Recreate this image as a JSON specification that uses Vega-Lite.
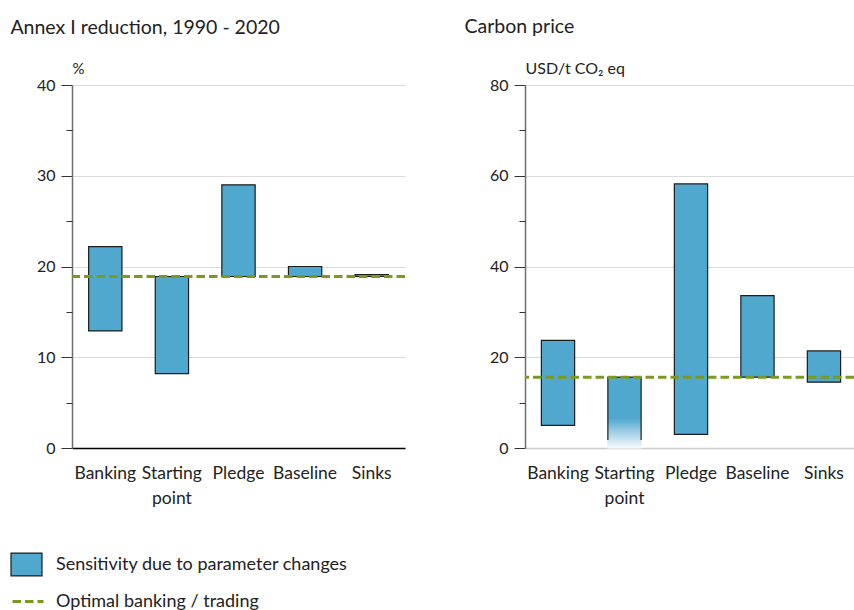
{
  "$schema": "https://vega.github.io/schema/vega-lite/v6.json",
  "padding": {"left": 10, "top": 16, "right": 0, "bottom": 0},
  "background": "white",
  "datasets": {
    "reduction": [
      {"scenario": "Banking", "low": 12.9, "high": 22.2},
      {"scenario": "Starting point", "low": 8.2, "high": 18.9},
      {"scenario": "Pledge", "low": 18.9, "high": 29.0},
      {"scenario": "Baseline", "low": 18.9, "high": 20.0},
      {"scenario": "Sinks", "low": 18.9, "high": 19.1}
    ],
    "reductionOptimal": [{"value": 18.9}],
    "price": [
      {"scenario": "Banking", "low": 5.0, "high": 23.7},
      {"scenario": "Starting point", "low": 0, "high": 15.6},
      {"scenario": "Pledge", "low": 3.0, "high": 58.2},
      {"scenario": "Baseline", "low": 15.6, "high": 33.6},
      {"scenario": "Sinks", "low": 14.5, "high": 21.4}
    ],
    "priceOptimal": [{"value": 15.6}]
  },
  "hconcat": [
    {
      "width": 333,
      "height": 363,
      "title": {"text": "Annex I reduction, 1990 - 2020", "anchor": "start", "dx": -26},
      "layer": [
        {
          "data": {"name": "reduction"},
          "mark": {"type": "bar", "stroke": "#1c1c1c", "strokeWidth": 1.2},
          "encoding": {
            "x": {
              "field": "scenario", "type": "nominal", "sort": null,
              "scale": {"paddingInner": 0.5, "paddingOuter": 0.25},
              "axis": {"domainColor": "#000000", "domainWidth": 1.5}
            },
            "y": {
              "field": "low", "type": "quantitative",
              "scale": {"domain": [0, 40], "nice": false, "zero": true},
              "axis": {"values": [0, 10, 20, 30, 40], "title": "%"}
            },
            "y2": {"field": "high"},
            "color": {
              "datum": "Sensitivity due to parameter changes",
              "scale": {"range": ["#51a8cf"]},
              "legend": {"legendX": -62, "legendY": 463}
            }
          }
        },
        {
          "data": {"name": "reductionOptimal"},
          "mark": {"type": "rule", "color": "#7a9a1f", "strokeWidth": 3},
          "encoding": {
            "y": {
              "field": "value", "type": "quantitative",
              "axis": {"values": [5, 15, 25, 35], "orient": "left", "tickSize": 6, "labels": false, "domain": false, "grid": false, "title": null}
            },
            "strokeDash": {
              "datum": "Optimal banking / trading",
              "scale": {"range": [[8.5, 4]]},
              "legend": {
                "legendX": -55.5, "legendY": 505,
                "symbolType": "M-1.55,0H1.55", "symbolSize": 400,
                "symbolStrokeColor": "#7a9a1f", "symbolStrokeWidth": 3,
                "labelOffset": 16.5
              }
            }
          }
        }
      ],
      "resolve": {"axis": {"y": "independent"}}
    },
    {
      "width": 329,
      "height": 363,
      "title": {"text": "Carbon price", "anchor": "start", "dx": -25},
      "layer": [
        {
          "data": {"name": "price"},
          "transform": [{"filter": "datum.scenario !== 'Starting point'"}],
          "mark": {"type": "bar", "stroke": "#1c1c1c", "strokeWidth": 1.2},
          "encoding": {
            "x": {
              "field": "scenario", "type": "nominal", "sort": ["Banking", "Starting point", "Pledge", "Baseline", "Sinks"],
              "scale": {"domain": ["Banking", "Starting point", "Pledge", "Baseline", "Sinks"], "paddingInner": 0.5, "paddingOuter": 0.224, "align": 0.55},
              "axis": {"domainColor": "#cccccc", "domainWidth": 1.5}
            },
            "y": {
              "field": "low", "type": "quantitative",
              "scale": {"domain": [0, 80], "nice": false, "zero": true},
              "axis": {"values": [0, 20, 40, 60, 80], "title": "USD/t CO₂ eq", "titleFontSize": 16}
            },
            "y2": {"field": "high"},
            "color": {
              "datum": "Sensitivity due to parameter changes",
              "scale": {"range": ["#51a8cf"]}
            }
          }
        },
        {
          "data": {"name": "price"},
          "transform": [{"filter": "datum.scenario === 'Starting point'"}],
          "mark": {
            "type": "bar",
            "strokeWidth": 1.2,
            "fill": {
              "gradient": "linear", "x1": 0, "y1": 0, "x2": 0, "y2": 1,
              "stops": [
                {"offset": 0, "color": "#51a8cf"},
                {"offset": 0.58, "color": "#51a8cf"},
                {"offset": 1, "color": "#f7fbfd"}
              ]
            },
            "stroke": {
              "gradient": "linear", "x1": 0, "y1": 0, "x2": 0, "y2": 1,
              "stops": [
                {"offset": 0, "color": "#1c1c1c"},
                {"offset": 0.88, "color": "#1c1c1c"},
                {"offset": 0.885, "color": "#cae4f0"},
                {"offset": 1, "color": "#f7fbfd"}
              ]
            }
          },
          "encoding": {
            "x": {"field": "scenario", "type": "nominal"},
            "y": {"field": "low", "type": "quantitative", "axis": null},
            "y2": {"field": "high"}
          }
        },
        {
          "data": {"name": "priceOptimal"},
          "mark": {"type": "rule", "color": "#7a9a1f", "strokeWidth": 3},
          "encoding": {
            "y": {
              "field": "value", "type": "quantitative",
              "axis": {"values": [10, 30, 50, 70], "orient": "left", "tickSize": 6, "labels": false, "domain": false, "grid": false, "title": null}
            },
            "strokeDash": {
              "datum": "Optimal banking / trading",
              "scale": {"range": [[8.5, 4]]}
            }
          }
        }
      ],
      "resolve": {"axis": {"y": "independent"}}
    }
  ],
  "config": {
    "font": "Lato",
    "view": {"stroke": null},
    "concat": {"spacing": 57},
    "title": {"fontSize": 19.5, "fontWeight": "normal", "color": "#222222", "offset": 23},
    "axis": {
      "labelFont": "Lato", "labelFontSize": 16, "labelColor": "#222222",
      "titleFont": "Lato", "titleFontWeight": "normal", "titleColor": "#222222"
    },
    "axisX": {
      "ticks": false, "title": null, "labelAngle": 0, "labelPadding": 16, "labelLineHeight": 25,
      "labelFontSize": 17.5,
      "labelExpr": "datum.value == 'Starting point' ? ['Starting', 'point'] : datum.value",
      "grid": false
    },
    "axisY": {
      "tickSize": 11, "tickColor": "#333333", "domainColor": "#6e6e6e", "domainWidth": 1.5,
      "grid": true, "gridColor": "#dcdcdc", "gridWidth": 1.2,
      "labelPadding": 6, "titleAngle": 0, "titleX": 0, "titleY": -12, "titleAlign": "left",
      "titleBaseline": "alphabetic", "titleFontSize": 15
    },
    "legend": {
      "orient": "none", "title": null,
      "labelFont": "Lato", "labelFontSize": 18, "labelColor": "#222222", "labelOffset": 13,
      "labelLimit": 0,
      "symbolType": "M-1,-0.74H1V0.74H-1Z", "symbolSize": 961,
      "symbolStrokeColor": "#1c1c1c", "symbolStrokeWidth": 1.2, "symbolOpacity": 1
    }
  }
}
